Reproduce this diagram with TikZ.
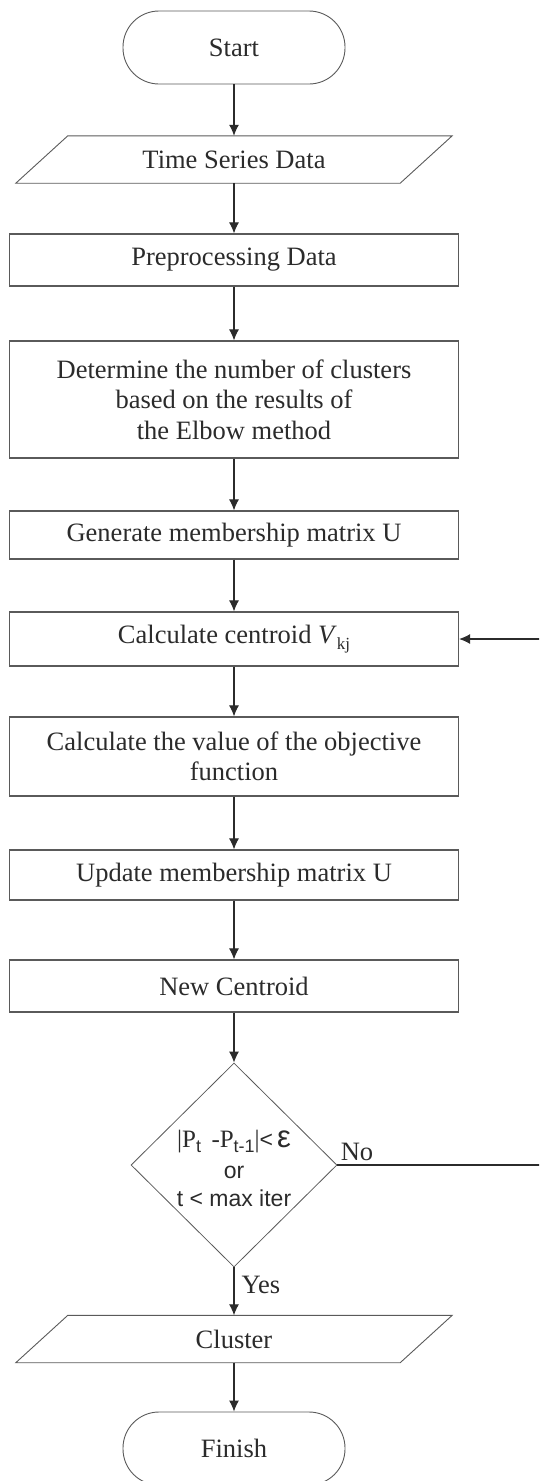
\documentclass[tikz,border=0pt]{standalone}
\usepackage{fontspec}
\setmainfont{Liberation Serif}
\newfontfamily\sansf{Liberation Sans}
\usetikzlibrary{arrows.meta,shapes.geometric}
\definecolor{ink}{HTML}{2B2B2B}
\definecolor{edge}{HTML}{5A5A5A}
\begin{document}
\begin{tikzpicture}[x=1pt,y=-1pt,
  every node/.style={font=\fontsize{26.5}{30.5}\selectfont, text=ink},
  box/.style={draw=edge, line width=1.2pt, minimum width=449pt, inner sep=0pt, align=center},
  term/.style={draw=edge, line width=0.9pt, rounded corners=36pt, minimum width=222pt, minimum height=73pt, inner sep=0pt},
  para/.style={minimum width=436pt, minimum height=47pt, inner sep=0pt},
  paraline/.style={draw=edge, line width=0.9pt},
  dia/.style={diamond, aspect=1, draw=edge, line width=0.8pt, minimum width=206pt, minimum height=204pt, inner sep=0pt},
  dtext/.style={align=center, inner sep=0pt},
  arr/.style={draw=ink, line width=1.1pt, -{Latex[length=11pt,width=10pt]}},
  lbl/.style={inner sep=0pt},
]
\useasboundingbox (0,0) rectangle (539,1481);
\clip (0,0) rectangle (539,1481);

\node[term] (start) at (234,47.5) {Start};

\node[para] (tsd) at (234,159.5) {Time Series Data};
\draw[paraline] ([xshift=52pt]tsd.north west) -- (tsd.north east)
  -- ([xshift=-52pt]tsd.south east) -- (tsd.south west) -- cycle;

\node[box, minimum height=52pt] (prep) at (234,260) {Preprocessing Data};
\node[box, minimum height=117pt] (det) at (234,399.5) {Determine the number of clusters\\based on the results of\\the Elbow method};
\node[box, minimum height=48pt] (gen) at (234,535) {Generate membership matrix U};
\node[box, minimum height=54pt] (cent) at (234,639) {Calculate centroid \textit{V}\raisebox{-6pt}{\fontsize{17}{17}\selectfont kj}};
\node[box, minimum height=79pt] (val) at (234,756.5) {Calculate the value of the objective\\function};
\node[box, minimum height=50pt] (upd) at (234,875) {Update membership matrix U};
\node[box, minimum height=52pt] (newc) at (234,986) {New Centroid};

\node[dia] (dec) at (234,1165) {};
\node[dtext] (dectext) at (234,1168) {%
  \fontsize{25}{25}\selectfont |P\raisebox{-5pt}{\sansf\fontsize{18}{18}\selectfont t}\ \,-P\raisebox{-5pt}{\sansf\fontsize{18}{18}\selectfont t-1}|{\sansf\fontsize{23}{23}\selectfont <\,}{\sansf\fontsize{31}{25}\selectfont ε}\\[1pt]
  {\sansf\fontsize{23}{25}\selectfont or}\\[-3pt]
  {\sansf\fontsize{23}{25}\selectfont t < max iter}};

\node[para] (clu) at (234,1339) {Cluster};
\draw[paraline] ([xshift=52pt]clu.north west) -- (clu.north east)
  -- ([xshift=-52pt]clu.south east) -- (clu.south west) -- cycle;

\node[term] (fin) at (234,1448.5) {Finish};

\node[lbl] (no) at (357,1152) {No};
\node[lbl] (yes) at (261,1285) {Yes};

\draw[arr] (start) -- (tsd);
\draw[arr] (tsd) -- (prep);
\draw[arr] (prep) -- (det);
\draw[arr] (det) -- (gen);
\draw[arr] (gen) -- (cent);
\draw[arr] (cent) -- (val);
\draw[arr] (val) -- (upd);
\draw[arr] (upd) -- (newc);
\draw[arr] (newc) -- (dec);
\draw[arr] (dec) -- (clu);
\draw[arr] (clu) -- (fin);
\coordinate (loopx) at (600,1165);
\draw[arr] (dec.east) -- (loopx) |- (cent.east);
\end{tikzpicture}
\end{document}
